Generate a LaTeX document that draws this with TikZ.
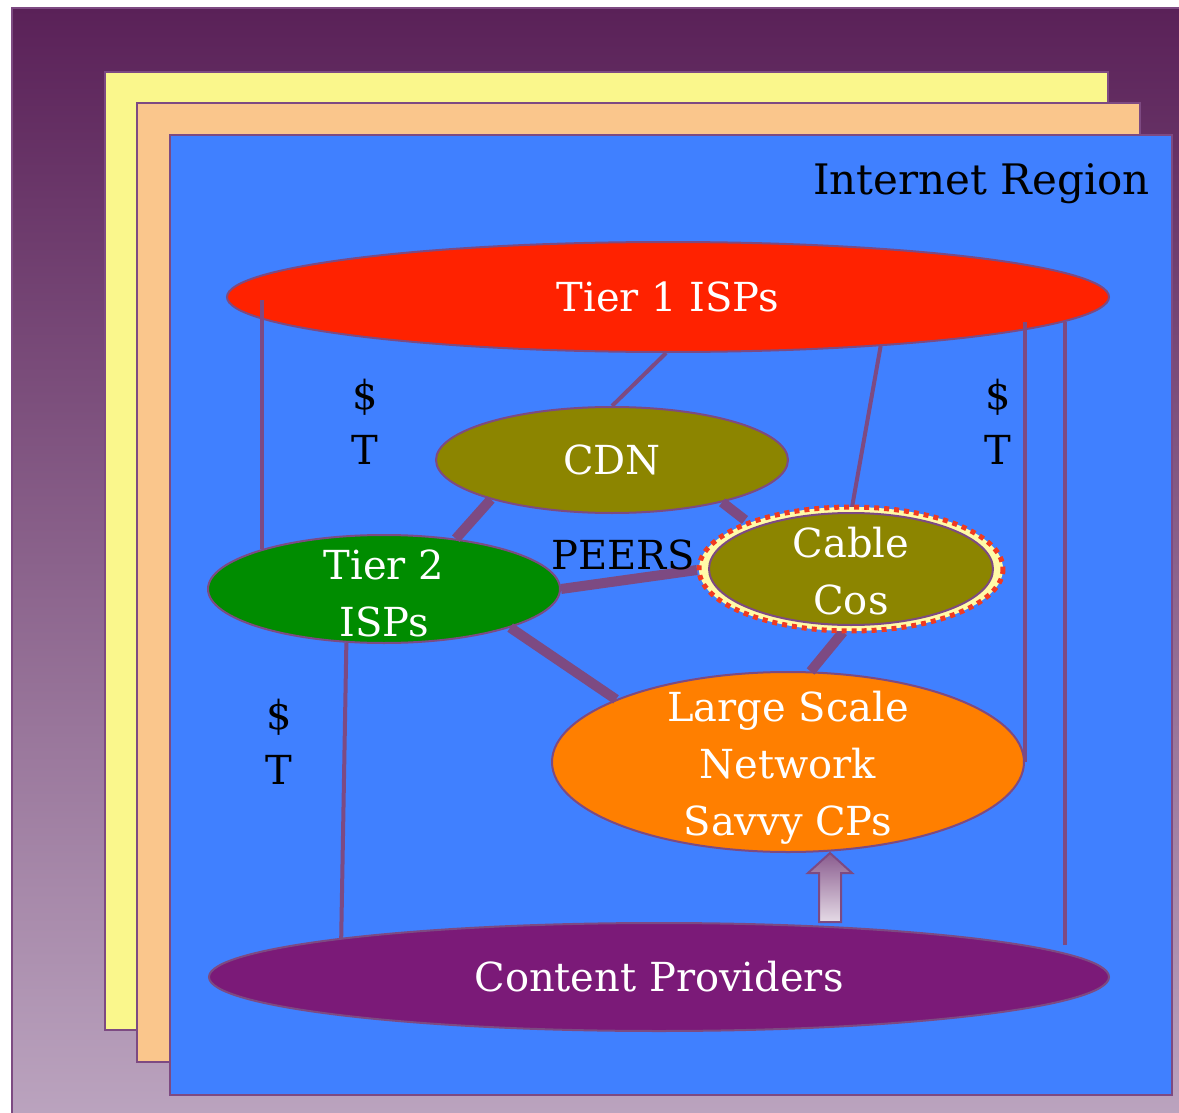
\documentclass[tikz,border=0pt]{standalone}
\usepackage{fontspec}
\setmainfont{DejaVu Serif}
\usetikzlibrary{shapes.geometric}

\definecolor{edgepurple}{HTML}{7D4A82}
\definecolor{bgtop}{HTML}{5A2158}
\definecolor{bgbottom}{HTML}{BBA4BF}
\definecolor{sheetyellow}{HTML}{FAF78C}
\definecolor{sheetpeach}{HTML}{FAC68C}
\definecolor{regionblue}{HTML}{4080FF}
\definecolor{tieronered}{HTML}{FF2200}
\definecolor{cdnolive}{HTML}{8C8500}
\definecolor{tiertwogreen}{HTML}{008C00}
\definecolor{cporange}{HTML}{FF7F00}
\definecolor{cppurple}{HTML}{7B1A78}
\definecolor{ringyellow}{HTML}{FFFBA8}
\definecolor{dotred}{HTML}{F03A20}

\tikzset{
  sheet/.style={draw=edgepurple, line width=2pt},
  isp/.style={ellipse, draw=edgepurple, line width=2pt, text=white,
    align=center, inner sep=0pt, font=\fontsize{40}{57}\selectfont},
  ispname/.style={text=white, align=center, inner sep=0pt, font=\fontsize{40}{57}\selectfont},
  link/.style={edgepurple, line width=4pt},
  peering/.style={edgepurple, line width=10pt},
  tag/.style={font=\fontsize{40}{55}\selectfont, text=black, inner sep=0pt}
}

\begin{document}
\begin{tikzpicture}[x=1pt, y=-1pt]
  \useasboundingbox (0,0) rectangle (1179,1113);
  \fill[white] (0,0) rectangle (1179,1113);

  % backdrop and stacked sheets
  \shade[top color=bgtop, bottom color=bgbottom, draw=edgepurple, line width=2pt]
    (12,8) rectangle (1185,1120);
  \fill[sheetyellow, sheet] (105,72) rectangle (1108,1030);
  \fill[sheetpeach, sheet] (137,103) rectangle (1140,1062);
  \fill[regionblue, sheet] (170,135) rectangle (1172,1095);

  \node[tag, anchor=base east, font=\fontsize{42}{55}\selectfont] (region) at (1150,194) {Internet Region};

  % the players
  \node[isp, fill=tieronered, minimum width=882, minimum height=110] (t1) at (668,297) {Tier 1 ISPs};
  \node[isp, fill=cdnolive, minimum width=352, minimum height=106] (cdn) at (612,460) {CDN};
  \node[isp, fill=tiertwogreen, minimum width=352, minimum height=108] (t2) at (384,589) {};
  \node[ispname] (t2name) at (384,593) {Tier 2\\ISPs};
  \node[isp, fill=cporange, minimum width=472, minimum height=180] (lg) at (788,762) {};
  \node[ispname] (lgname) at (788,768) {Large Scale\\Network\\Savvy CPs};
  \node[isp, fill=cppurple, minimum width=900, minimum height=108] (cp) at (659,977) {Content Providers};

  % transit links
  \draw[link] (t2.162) -- ([yshift=-3]t2.162 |- t1.center);
  \draw[link] (t1.268) -- (cdn.north);
  \draw[link] (t1.-13) -- (851,513);
  \draw[link] (lg.east) -- ([yshift=-25]lg.east |- t1.center);
  \draw[link] ([shift={(406,-32)}]cp.center) -- ([shift={(397,25)}]t1.center);
  \draw[link] (t2.235) -- (cp.173);

  % peering links
  \draw[peering] (cdn.198) -- (t2.35);
  \draw[peering] (cdn.-21) -- (745,520);
  \draw[peering] (t2.east) -- (697,570);
  \draw[peering] (t2.-17) -- (lg.160);
  \draw[peering] (843,632) -- (lg.76);

  % cable operators, ringed
  \fill[ringyellow] (851,569) ellipse [x radius=152, y radius=62];
  \draw[dotred, line width=5pt, dash pattern=on 5pt off 5pt] (851,569) ellipse [x radius=152, y radius=62];
  \node[isp, fill=cdnolive, minimum width=284, minimum height=112] (cb) at (851,569) {};
  \node[ispname] (cbname) at (851,571) {Cable\\Cos};

  % content providers feeding the big CPs
  \shade[top color=edgepurple!90, bottom color=white!80!edgepurple, draw=edgepurple, line width=2pt]
    (819,922) -- (819,873) -- (808,873) -- (lg.south -| 830,0) -- (852,873) -- (841,873) -- (841,922) -- cycle;

  \node[tag] (peers) at (623,555) {PEERS};
  \node[tag, align=center] (st1) at (365,422) {\$\\T};
  \node[tag, align=center] (st2) at (998,422) {\$\\T};
  \node[tag, align=center] (st3) at (279,742) {\$\\T};
\end{tikzpicture}
\end{document}
